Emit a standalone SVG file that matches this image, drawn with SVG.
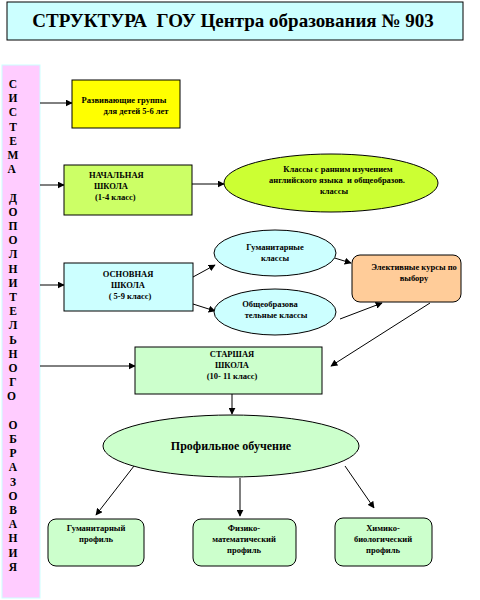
<svg xmlns="http://www.w3.org/2000/svg" width="480" height="600" viewBox="0 0 480 600" font-family="Liberation Serif, DejaVu Serif, serif">
<defs>
<style>
.t{font-family:"Liberation Serif","DejaVu Serif",serif;font-weight:bold;fill:#000}
.s{font-size:8.5px;text-anchor:middle}
.v{font-size:11.5px;text-anchor:middle}
.ln{stroke:#000;stroke-width:1;fill:none}
.bx{stroke:#000;stroke-width:1}
</style>
<marker id="ah" viewBox="0 0 10 10" refX="9" refY="5" markerWidth="7" markerHeight="7" orient="auto-start-reverse" markerUnits="userSpaceOnUse">
<path d="M0,0 L10,5 L0,10 z" fill="#000"/>
</marker>
</defs>
<rect width="480" height="600" fill="#fff"/>

<g id="title">
<rect x="7" y="2" width="456" height="38" fill="#CCFFFF" class="bx"/>
<text x="233" y="27" class="t" font-family="Liberation Serif, serif" font-size="19" text-anchor="middle" xml:space="preserve">СТРУКТУРА  ГОУ Центра образования № 903</text>
</g>

<g id="side">
<rect x="2" y="65" width="38" height="533" fill="#FFCCFF" stroke="#CCFFFF" stroke-width="1"/>
<text class="t v" font-family="Liberation Serif, serif">
<tspan x="13" y="88">С</tspan><tspan x="13" dy="14.2">И</tspan><tspan x="13" dy="14.2">С</tspan><tspan x="13" dy="14.2">Т</tspan><tspan x="13" dy="14.2">Е</tspan><tspan x="13" dy="14.2">М</tspan><tspan x="13" dy="14.2">А</tspan>
<tspan x="13" dy="28.4">Д</tspan><tspan x="13" dy="14.2">О</tspan><tspan x="13" dy="14.2">П</tspan><tspan x="13" dy="14.2">О</tspan><tspan x="13" dy="14.2">Л</tspan><tspan x="13" dy="14.2">Н</tspan><tspan x="13" dy="14.2">И</tspan><tspan x="13" dy="14.2">Т</tspan><tspan x="13" dy="14.2">Е</tspan><tspan x="13" dy="14.2">Л</tspan><tspan x="13" dy="14.2">Ь</tspan><tspan x="13" dy="14.2">Н</tspan><tspan x="13" dy="14.2">О</tspan><tspan x="13" dy="14.2">Г</tspan><tspan x="13" dy="14.2">О</tspan>
<tspan x="13" dy="28.4">О</tspan><tspan x="13" dy="14.2">Б</tspan><tspan x="13" dy="14.2">Р</tspan><tspan x="13" dy="14.2">А</tspan><tspan x="13" dy="14.2">З</tspan><tspan x="13" dy="14.2">О</tspan><tspan x="13" dy="14.2">В</tspan><tspan x="13" dy="14.2">А</tspan><tspan x="13" dy="14.2">Н</tspan><tspan x="13" dy="14.2">И</tspan><tspan x="13" dy="14.2">Я</tspan>
</text>
</g>

<g id="connectors">
<line x1="40" y1="103" x2="72" y2="103" class="ln" marker-end="url(#ah)"/>
<line x1="40" y1="185" x2="64" y2="185" class="ln" marker-end="url(#ah)"/>
<line x1="40" y1="285" x2="64" y2="285" class="ln" marker-end="url(#ah)"/>
<line x1="40" y1="366" x2="135" y2="366" class="ln" marker-end="url(#ah)"/>
<line x1="192" y1="184" x2="224" y2="184" class="ln" marker-end="url(#ah)"/>
<line x1="193" y1="277" x2="215" y2="265" class="ln" marker-end="url(#ah)"/>
<line x1="193" y1="304" x2="215" y2="311" class="ln" marker-end="url(#ah)"/>
<line x1="328" y1="256" x2="351" y2="263" class="ln" marker-end="url(#ah)"/>
<line x1="340" y1="319" x2="382" y2="303" class="ln" marker-end="url(#ah)"/>
<line x1="430" y1="303" x2="331" y2="366" class="ln" marker-end="url(#ah)"/>
<line x1="232" y1="394" x2="232" y2="414" class="ln" marker-end="url(#ah)"/>
<line x1="134" y1="466" x2="96" y2="515" class="ln" marker-end="url(#ah)"/>
<line x1="240" y1="478" x2="240" y2="516" class="ln" marker-end="url(#ah)"/>
<line x1="345" y1="466" x2="374" y2="508" class="ln" marker-end="url(#ah)"/>
</g>

<g id="n-groups">
<rect x="72" y="80" width="108" height="48" fill="#FFFF00" class="bx"/>
<text class="t s"><tspan x="124" y="103">Развивающие группы</tspan><tspan x="136" y="114">для детей 5-6 лет</tspan></text>
</g>

<g id="n-primary">
<rect x="64" y="165" width="128" height="50" fill="#CCFF66" class="bx"/>
<text class="t s" style="text-anchor:start"><tspan x="89" y="178">НАЧАЛЬНАЯ</tspan><tspan x="94" y="189">ШКОЛА</tspan><tspan x="95" y="200">(1-4 класс)</tspan></text>
</g>

<g id="n-english">
<ellipse cx="331" cy="183" rx="107" ry="29" fill="#CCFF33" class="bx"/>
<text class="t s" xml:space="preserve"><tspan x="338" y="172">Классы с ранним изучением</tspan><tspan x="337" y="183">английского языка  и общеобразов.</tspan><tspan x="334" y="194">классы</tspan></text>
</g>

<g id="n-basic">
<rect x="64" y="263" width="129" height="48" fill="#CCFFFF" class="bx"/>
<text class="t s"><tspan x="128" y="277">ОСНОВНАЯ</tspan><tspan x="128" y="288">ШКОЛА</tspan><tspan x="130" y="299">( 5-9 класс)</tspan></text>
</g>

<g id="n-humclass">
<ellipse cx="275" cy="253" rx="61" ry="23" fill="#CCFFFF" class="bx"/>
<text class="t s"><tspan x="275" y="250">Гуманитарные</tspan><tspan x="275" y="261">классы</tspan></text>
</g>

<g id="n-genclass">
<ellipse cx="275" cy="312" rx="61" ry="23" fill="#CCFFFF" class="bx"/>
<text class="t s"><tspan x="270" y="307">Общеобразова</tspan><tspan x="276" y="318">тельные классы</tspan></text>
</g>

<g id="n-elective">
<rect x="352" y="255" width="109" height="47" rx="8" ry="8" fill="#FFCC99" class="bx"/>
<text class="t s"><tspan x="414" y="270">Элективные курсы по</tspan><tspan x="414" y="281">выбору</tspan></text>
</g>

<g id="n-senior">
<rect x="135" y="347" width="187" height="47" fill="#CCFFCC" class="bx"/>
<text class="t s"><tspan x="232" y="357">СТАРШАЯ</tspan><tspan x="232" y="368">ШКОЛА</tspan><tspan x="232" y="379">(10- 11 класс)</tspan></text>
</g>

<g id="n-profile">
<ellipse cx="231" cy="446" rx="128" ry="31" fill="#CCFFCC" class="bx"/>
<text x="231" y="450" class="t" font-size="12" text-anchor="middle">Профильное обучение</text>
</g>

<g id="n-hum">
<rect x="48" y="519" width="96" height="47" rx="8" ry="8" fill="#CCFFCC" class="bx"/>
<text class="t s"><tspan x="96" y="531">Гуманитарный</tspan><tspan x="96" y="542">профиль</tspan></text>
</g>

<g id="n-phys">
<rect x="193" y="519" width="103" height="47" rx="8" ry="8" fill="#CCFFCC" class="bx"/>
<text class="t s"><tspan x="244" y="531">Физико-</tspan><tspan x="244" y="542">математический</tspan><tspan x="244" y="553">профиль</tspan></text>
</g>

<g id="n-chem">
<rect x="335" y="518" width="97" height="48" rx="8" ry="8" fill="#CCFFCC" class="bx"/>
<text class="t s"><tspan x="383" y="531">Химико-</tspan><tspan x="383" y="542">биологический</tspan><tspan x="383" y="553">профиль</tspan></text>
</g>
</svg>
